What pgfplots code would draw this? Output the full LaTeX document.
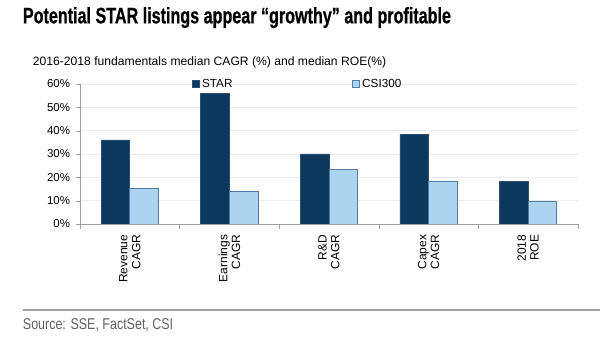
\documentclass[border=0pt]{standalone}
\usepackage{pgfplots}
\pgfplotsset{compat=1.18}
\usepackage{fontspec}
\setmainfont{Liberation Sans}
\newfontfamily\condfont[FakeStretch=0.80]{Liberation Sans}
\newfontfamily\titlefont[FakeStretch=0.72,FakeBold=0.6]{Liberation Sans}
\definecolor{star}{RGB}{12,56,94}
\definecolor{starline}{RGB}{40,80,115}
\definecolor{csi}{RGB}{172,211,239}
\definecolor{csiline}{RGB}{80,125,165}
\definecolor{axgrey}{RGB}{160,160,160}
\definecolor{gridgrey}{RGB}{236,236,236}
\begin{document}
\begin{tikzpicture}
\path[use as bounding box] (0,0) rectangle (450pt,253.5pt);
\node[anchor=base west,inner sep=0pt,font=\titlefont\bfseries\fontsize{16.8}{18}\selectfont] at (17pt,236pt) {Potential STAR listings appear “growthy” and profitable};
\node[anchor=base west,inner sep=0pt,font=\fontsize{9.1}{10}\selectfont] at (24.5pt,204pt) {2016-2018 fundamentals median CAGR (\%) and median ROE(\%)};
\draw[axgrey,line width=0.8pt] (17pt,21pt) -- (450pt,21pt);
\node[anchor=base west,inner sep=0pt,text=black!62,font=\condfont\fontsize{11.7}{13}\selectfont] at (17pt,6pt) {Source: SSE, FactSet, CSI};
\begin{axis}[
  at={(60pt,85.5pt)}, anchor=south west,
  scale only axis, width=373.5pt, height=105pt,
  xmin=-0.5, xmax=4.5, ymin=0, ymax=60,
  ybar=0pt, bar width=21.5pt,
  axis x line*=bottom, axis y line*=left,
  axis line style={axgrey},
  xtick={0,1,2,3,4},
  xticklabels={{Revenue\\CAGR},{Earnings\\CAGR},{R\&D\\CAGR},{Capex\\CAGR},{2018\\ROE}},
  minor xtick={-0.5,0.5,1.5,2.5,3.5,4.5},
  major x tick style={draw=none},
  minor x tick style={axgrey},
  minor tick length=3.5pt,
  major tick length=3pt,
  ytick={0,10,...,60},
  y tick style={axgrey},
  tick align=outside,
  ymajorgrids, grid style={gridgrey},
  yticklabel={\pgfmathprintnumber{\tick}\%},
  /pgf/number format/assume math mode=true,
  yticklabel style={font=\fontsize{8.6}{9}\selectfont, xshift=-1pt},
  xticklabel style={font=\fontsize{9}{9.6}\selectfont, rotate=90, anchor=east, align=right, inner sep=1pt, xshift=-4pt},
  legend columns=2,
  legend style={at={(0.225,1.0)}, anchor=west, draw=none, fill=none, font=\fontsize{8.8}{10}\selectfont, /tikz/every even column/.append style={column sep=88pt}, inner sep=0pt},
  legend image code/.code={\draw[#1,line width=0.5pt] (0pt,-2.4pt) rectangle (4.8pt,2.4pt);},
]
\addplot[fill=star, draw=starline, line width=0.6pt] coordinates {(0,36) (1,55.8) (2,30) (3,38.4) (4,18.1)};
\addplot[fill=csi, draw=csiline, line width=0.6pt] coordinates {(0,15.3) (1,13.9) (2,23.4) (3,18.3) (4,9.6)};
\legend{STAR,CSI300}
\end{axis}
\end{tikzpicture}
\end{document}
